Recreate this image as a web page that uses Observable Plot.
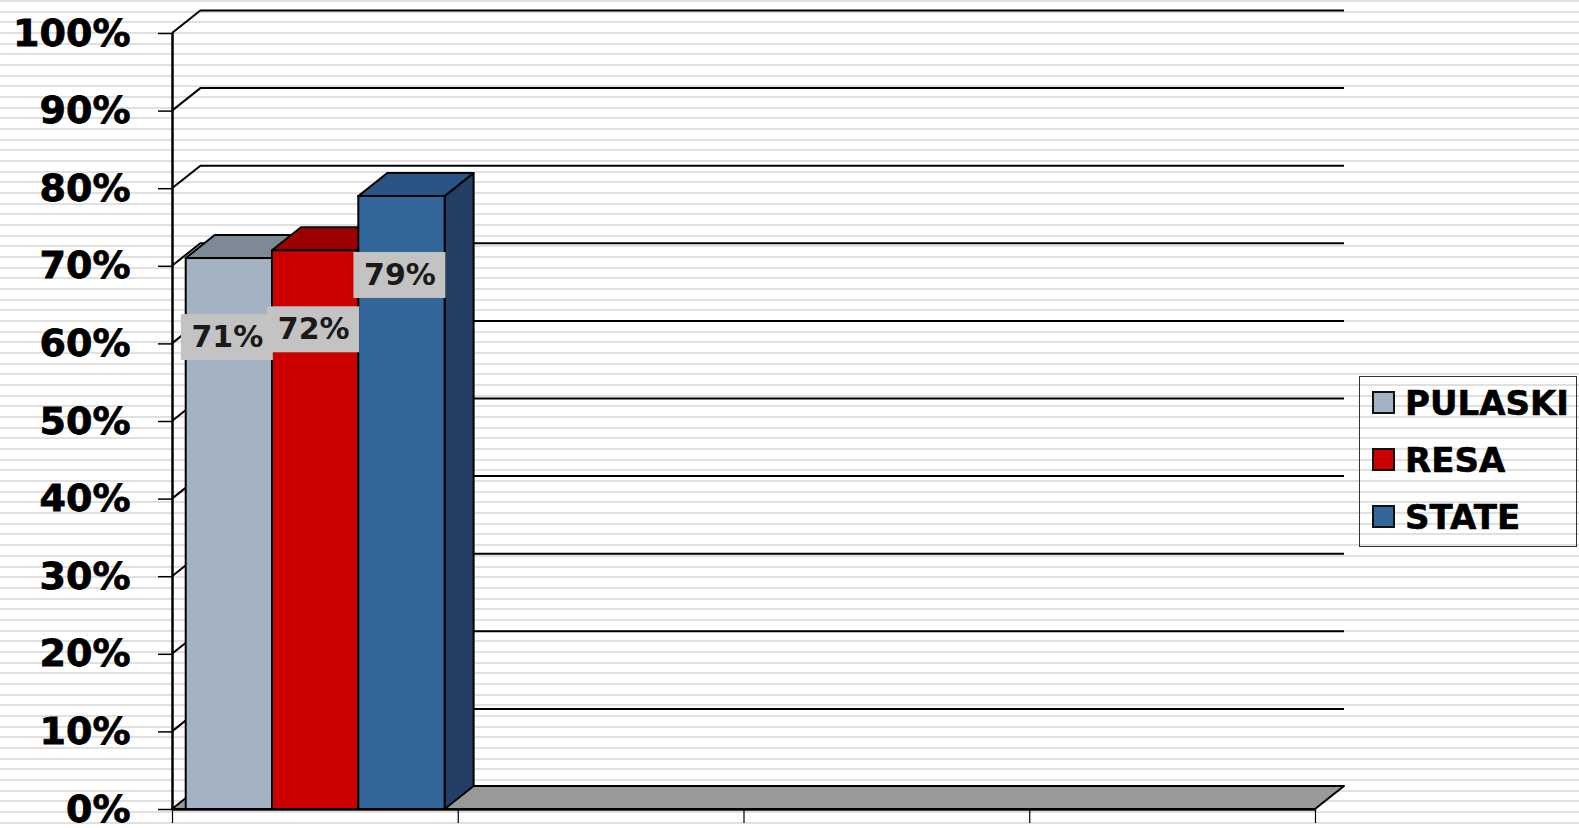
<!DOCTYPE html>
<html><head><meta charset="utf-8">
<script src="https://cdn.jsdelivr.net/npm/d3@7"></script>
<script src="https://cdn.jsdelivr.net/npm/@observablehq/plot@0.6"></script>
<style>
html,body{margin:0;padding:0;}
body{width:1579px;height:828px;overflow:hidden;position:relative;
  background: repeating-linear-gradient(to bottom, #e0e0e0 0px, #e0e0e0 2px, #ffffff 2px, #ffffff 10.67px);}
#chart{position:absolute;left:0;top:0;}
#chart g[aria-label="y-axis tick label"] text{stroke:#000;stroke-width:0.8px;}
#legend{position:absolute;left:1359px;top:376px;width:216px;height:169px;border:1.5px solid #333;
  font-family:"DejaVu Sans",Verdana,sans-serif;font-weight:bold;font-size:34px;color:#000;
  -webkit-text-stroke:0.6px #000;}
.item{position:absolute;left:12px;height:40px;display:flex;align-items:center;white-space:nowrap;}
.sw{width:19px;height:19px;border:2px solid #111;margin-right:10px;}
</style></head><body>
<div id="chart"></div>
<div id="legend"></div>
<script>
// ---- data ----
const categories = ["Group 1", "Group 2", "Group 3", "Group 4"]; // unlabeled category slots
const series = ["PULASKI", "RESA", "STATE"];
const values = [71, 72, 79];
const frontColors = ["#a3b3c4", "#cc0000", "#336699"];
const topColors = ["#7d8995", "#9c0000", "#2a5483"];
const sideColors = ["#6a7581", "#850000", "#233f66"];
const yTicks = [0, 10, 20, 30, 40, 50, 60, 70, 80, 90, 100];
const legendCenters = [403, 460, 517];

// ---- layout constants ----
const DX = 29, DY = -23;          // 3-D depth offset in pixels
const GAP = 0.048, BW = 0.302;    // bar placement within a category slot

const bars = series.map((s, i) => ({
  series: s, i, cat: 0, value: values[i],
  x1: 0 + GAP + i * BW, x2: 0 + GAP + (i + 1) * BW
}));

const mk = (fn) => (index, scales) => {
  const g = d3.create("svg:g");
  fn(g, scales.x, scales.y);
  return g.node();
};
const polyStr = (pts) => pts.map(p => p.join(",")).join(" ");

const nCat = categories.length;

const chart = Plot.plot({
  width: 1579,
  height: 828,
  marginLeft: 172,
  marginRight: 264,
  marginTop: 33,
  marginBottom: 19,
  style: {background: "transparent", fontFamily: "DejaVu Sans, Verdana, sans-serif", overflow: "visible"},
  x: {domain: [0, nCat]},
  y: {domain: [0, 100]},
  marks: [
    // floor
    mk((g, x, y) => {
      g.append("polygon")
        .attr("points", polyStr([[x(0), y(0)], [x(0) + DX, y(0) + DY], [x(nCat) + DX, y(0) + DY], [x(nCat), y(0)]]))
        .attr("fill", "#999999").attr("stroke", "#000").attr("stroke-width", 2).attr("stroke-linejoin", "round");
    }),
    // side-wall diagonals
    mk((g, x, y) => {
      for (const v of yTicks.filter(v => v > 0)) {
        g.append("line")
          .attr("x1", x(0)).attr("y1", y(v)).attr("x2", x(0) + DX).attr("y2", y(v) + DY)
          .attr("stroke", "#000").attr("stroke-width", 2);
      }
    }),
    // back-wall gridlines
    Plot.ruleY(yTicks.filter(v => v > 0), {x1: 0, x2: nCat, dx: DX, dy: DY, stroke: "#000", strokeWidth: 2}),
    // y axis line
    Plot.ruleX([0], {y1: 0, y2: 100, stroke: "#000", strokeWidth: 2.5}),
    Plot.axisY(yTicks, {
      tickSize: 14, tickPadding: 28, strokeWidth: 1.5,
      tickFormat: d => d + "%", fontSize: 38, fontWeight: "bold", fill: "#000", label: null
    }),
    Plot.axisX(d3.range(nCat + 1), {tickSize: 14, tickFormat: () => "", strokeWidth: 1.2, label: null}),
    // 3-D side and top faces
    mk((g, x, y) => {
      for (const b of bars) {
        const xa = x(b.x1), xb = x(b.x2), y0 = y(0), yv = y(b.value);
        g.append("polygon")
          .attr("points", polyStr([[xb, yv], [xb + DX, yv + DY], [xb + DX, y0 + DY], [xb, y0]]))
          .attr("fill", sideColors[b.i]).attr("stroke", "#000").attr("stroke-width", 2).attr("stroke-linejoin", "round");
        g.append("polygon")
          .attr("points", polyStr([[xa, yv], [xa + DX, yv + DY], [xb + DX, yv + DY], [xb, yv]]))
          .attr("fill", topColors[b.i]).attr("stroke", "#000").attr("stroke-width", 2).attr("stroke-linejoin", "round");
      }
    }),
    // front faces
    Plot.rect(bars, {x1: "x1", x2: "x2", y1: 0, y2: "value", fill: d => frontColors[d.i], stroke: "#000", strokeWidth: 2}),
    // x axis front edge
    Plot.ruleY([0], {x1: 0, x2: nCat, stroke: "#000", strokeWidth: 2.5}),
    // label boxes
    mk((g, x, y) => {
      for (const b of bars) {
        const cx = (x(b.x1) + x(b.x2)) / 2 - 2, cy = y(b.value) + 79;
        g.append("rect").attr("x", cx - 46).attr("y", cy - 23).attr("width", 92).attr("height", 46)
          .attr("fill", "#c3c3c3");
      }
    }),
    Plot.text(bars, {
      x: d => (d.x1 + d.x2) / 2, y: "value", dy: 79, dx: -2,
      text: d => d.value + "%", fontSize: 30, fontWeight: "bold", fill: "#1a1a1a",
      fontFamily: "DejaVu Sans, Verdana, sans-serif"
    })
  ]
});
document.getElementById("chart").appendChild(chart);

// legend
const legend = d3.select("#legend");
series.forEach((s, i) => {
  const item = legend.append("div").attr("class", "item").style("top", (legendCenters[i] - 376 - 1.5 - 20) + "px");
  item.append("div").attr("class", "sw").style("background", frontColors[i]);
  item.append("span").text(s);
});
</script>
</body></html>
